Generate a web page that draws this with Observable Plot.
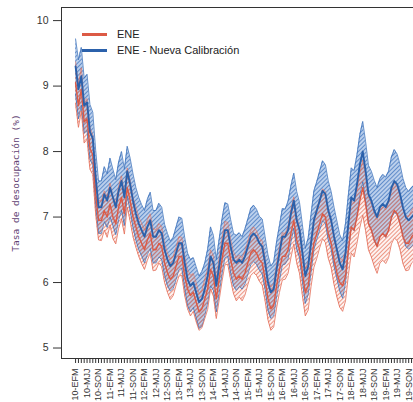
<!DOCTYPE html>
<html>
<head>
<meta charset="utf-8">
<script src="https://cdn.jsdelivr.net/npm/d3@7"></script>
<script src="https://cdn.jsdelivr.net/npm/@observablehq/plot@0.6"></script>
<style>
  html, body { margin: 0; padding: 0; overflow: hidden; background: #fff; width: 413px; height: 402px; }
  #chart { position: relative; width: 413px; height: 402px; overflow: hidden; }
  #chart svg { max-width: none !important; }
  .ley-linea { position: absolute; height: 3px; width: 25px; left: 82px; }
  .ley-texto { position: absolute; left: 117px; font: 11px "Liberation Sans", Arial, sans-serif; color: #222; line-height: 13px; white-space: nowrap; }
</style>
</head>
<body>
<div id="chart"></div>
<script>
// Trimestres móviles (etiquetas del eje X)
const anios = ["10", "11", "12", "13", "14", "15", "16", "17", "18", "19"];
const trimestres = ["EFM", "FMA", "MAM", "AMJ", "MJJ", "JJA", "JAS", "ASO", "SON", "OND", "NDE", "DEF"];
const ticksY = [5, 6, 7, 8, 9, 10];

// Tasa de desocupación (%) — ENE, serie publicada
const ene = [
  9.05, 8.7, 8.95, 8.45, 8.5, 8.05, 7.95, 7.35, 6.95, 6.95, 7.1, 7.0,
  7.2, 7.0, 6.9, 7.15, 7.3, 7.05, 7.45, 7.25, 7.0, 6.85, 6.7, 6.6,
  6.5, 6.65, 6.75, 6.5, 6.5, 6.6, 6.55, 6.3, 6.15, 6.05, 6.1, 6.25,
  6.4, 6.4, 6.1, 5.9, 5.8, 5.85, 5.7, 5.55, 5.6, 5.75, 5.9, 6.2,
  6.1, 5.75, 6.05, 6.35, 6.6, 6.6, 6.35, 6.15, 6.05, 6.1, 6.05, 6.15,
  6.3, 6.45, 6.5, 6.45, 6.35, 6.3, 6.05, 5.75, 5.6, 5.65, 5.95, 6.2,
  6.4, 6.4, 6.5, 6.75, 6.95, 6.65, 6.5, 6.15, 5.85, 5.95, 6.3, 6.6,
  6.75, 6.9, 7.05, 7.0, 6.75, 6.6, 6.35, 6.15, 6.0, 5.95, 6.1, 6.5,
  6.85, 6.8, 7.0, 7.25, 7.45, 7.2, 6.9, 6.8, 6.65, 6.55, 6.7, 6.75,
  6.7, 6.8, 7.0, 7.1, 7.05, 6.9, 6.7, 6.6, 6.6, 6.7, 6.75
];
// Margen del intervalo de confianza — ENE
const eneMargen = [
  0.32, 0.33, 0.33, 0.32, 0.31, 0.32, 0.3, 0.31, 0.3, 0.31, 0.3, 0.31,
  0.32, 0.33, 0.31, 0.32, 0.33, 0.31, 0.3, 0.31, 0.3, 0.31, 0.3, 0.31,
  0.3, 0.31, 0.3, 0.32, 0.31, 0.3, 0.31, 0.3, 0.3, 0.31, 0.3, 0.29,
  0.3, 0.29, 0.3, 0.3, 0.31, 0.29, 0.3, 0.28, 0.29, 0.3, 0.31, 0.3,
  0.31, 0.3, 0.32, 0.33, 0.33, 0.32, 0.31, 0.32, 0.33, 0.32, 0.33, 0.34,
  0.33, 0.34, 0.35, 0.34, 0.33, 0.34, 0.33, 0.32, 0.33, 0.33, 0.34, 0.35,
  0.36, 0.35, 0.36, 0.37, 0.36, 0.35, 0.36, 0.35, 0.36, 0.37, 0.36, 0.37,
  0.38, 0.37, 0.38, 0.39, 0.38, 0.37, 0.38, 0.37, 0.38, 0.39, 0.38, 0.39,
  0.4, 0.41, 0.4, 0.41, 0.42, 0.41, 0.4, 0.41, 0.4, 0.41, 0.4, 0.41,
  0.41, 0.42, 0.41, 0.42, 0.41, 0.4, 0.41, 0.42, 0.41, 0.4, 0.41
];
// Tasa de desocupación (%) — ENE con nueva calibración
const eneNueva = [
  9.3, 8.95, 9.15, 8.7, 8.75, 8.3, 8.2, 7.6, 7.15, 7.15, 7.35, 7.25,
  7.45, 7.3, 7.15, 7.4, 7.55, 7.3, 7.7, 7.5, 7.25, 7.05, 6.9, 6.8,
  6.7, 6.85, 6.95, 6.7, 6.7, 6.8, 6.75, 6.5, 6.35, 6.25, 6.3, 6.45,
  6.6, 6.6, 6.3, 6.05, 5.95, 6.0, 5.85, 5.7, 5.75, 5.9, 6.1, 6.4,
  6.3, 5.95, 6.25, 6.55, 6.8, 6.8, 6.55, 6.35, 6.3, 6.35, 6.3, 6.4,
  6.55, 6.7, 6.75, 6.7, 6.6, 6.55, 6.3, 6.0, 5.85, 5.9, 6.2, 6.45,
  6.7, 6.7, 6.8, 7.05, 7.25, 6.95, 6.8, 6.45, 6.1, 6.25, 6.6, 6.95,
  7.1, 7.25, 7.4, 7.35, 7.1, 6.95, 6.7, 6.5, 6.3, 6.2, 6.45, 6.9,
  7.3, 7.25, 7.5, 7.8, 8.0, 7.7, 7.35, 7.25, 7.1, 7.0, 7.15, 7.2,
  7.15, 7.25, 7.45, 7.55, 7.5, 7.35, 7.15, 7.0, 6.95, 7.0, 7.05
];
// Margen del intervalo de confianza — ENE con nueva calibración
const eneNuevaMargen = [
  0.42, 0.45, 0.44, 0.42, 0.43, 0.42, 0.4, 0.42, 0.4, 0.4, 0.42, 0.41,
  0.45, 0.43, 0.42, 0.44, 0.45, 0.43, 0.38, 0.4, 0.41, 0.4, 0.4, 0.39,
  0.4, 0.42, 0.43, 0.4, 0.4, 0.41, 0.4, 0.39, 0.4, 0.38, 0.39, 0.4,
  0.4, 0.38, 0.39, 0.4, 0.4, 0.38, 0.39, 0.4, 0.42, 0.4, 0.41, 0.45,
  0.42, 0.4, 0.41, 0.42, 0.42, 0.4, 0.41, 0.4, 0.42, 0.41, 0.4, 0.42,
  0.42, 0.43, 0.43, 0.42, 0.41, 0.42, 0.4, 0.42, 0.4, 0.41, 0.42, 0.42,
  0.43, 0.42, 0.44, 0.43, 0.42, 0.44, 0.42, 0.43, 0.42, 0.43, 0.44, 0.45,
  0.44, 0.45, 0.46, 0.45, 0.45, 0.44, 0.45, 0.44, 0.43, 0.44, 0.45, 0.44,
  0.45, 0.46, 0.45, 0.46, 0.46, 0.45, 0.44, 0.45, 0.46, 0.45, 0.44, 0.45,
  0.46, 0.45, 0.47, 0.48, 0.46, 0.45, 0.44, 0.45, 0.44, 0.45, 0.44
];

const periodos = anios.flatMap(a => trimestres.map(t => `${a}-${t}`)).slice(0, ene.length);

const filas = periodos.map((p, i) => ({
  i, periodo: p,
  ene: ene[i], eneLo: ene[i] - eneMargen[i], eneHi: ene[i] + eneMargen[i],
  nueva: eneNueva[i], nuevaLo: eneNueva[i] - eneNuevaMargen[i], nuevaHi: eneNueva[i] + eneNuevaMargen[i]
}));

const AZUL = "#2b61ab", AZUL_BORDE = "#3f74bb";
const ROJO = "#dc5a45", ROJO_BORDE = "#e36b56";

const grafico = Plot.plot({
  width: 430,
  height: 402,
  marginLeft: 61,
  marginRight: 2,
  marginTop: 7,
  marginBottom: 44,
  style: { fontFamily: "'Liberation Sans', Arial, sans-serif", color: "#333", background: "#fff", overflow: "visible", maxWidth: "none" },
  x: { domain: [-4.9, 122.9] },
  y: { domain: [4.84, 10.2] },
  marks: [
    // bandas de confianza con trama
    Plot.areaY(filas, { x: "i", y1: "nuevaLo", y2: "nuevaHi", fill: "url(#trama-azul)" }),
    Plot.areaY(filas, { x: "i", y1: "eneLo", y2: "eneHi", fill: "url(#trama-roja)" }),
    Plot.lineY(filas, { x: "i", y: "nuevaHi", stroke: AZUL_BORDE, strokeWidth: 0.8 }),
    Plot.lineY(filas, { x: "i", y: "nuevaLo", stroke: AZUL_BORDE, strokeWidth: 0.8 }),
    Plot.lineY(filas, { x: "i", y: "eneHi", stroke: ROJO_BORDE, strokeWidth: 0.7, strokeOpacity: 0.8 }),
    Plot.lineY(filas, { x: "i", y: "eneLo", stroke: ROJO_BORDE, strokeWidth: 0.8 }),
    // estimaciones puntuales
    Plot.lineY(filas, { x: "i", y: "ene", stroke: ROJO, strokeWidth: 1.4 }),
    Plot.lineY(filas, { x: "i", y: "nueva", stroke: AZUL, strokeWidth: 1.9 }),
    Plot.frame({ stroke: "#333", strokeWidth: 1 }),
    Plot.axisY(ticksY, { tickSize: 8, tickPadding: 5, fontSize: 10.5, label: null, stroke: "#333", tickFormat: d => String(d) }),
    Plot.axisX(d3.range(0, 123), {
      tickSize: 5, tickPadding: 5, fontSize: 9, tickRotate: -90, label: null,
      tickFormat: i => (i % 4 === 0 && i < periodos.length) ? periodos[i] : ""
    }),
    Plot.text(["Tasa de desocupación (%)"], {
      frameAnchor: "left", textAnchor: "middle", rotate: -90, dx: -46, fontSize: 9.5,
      fontFamily: "'DejaVu Sans Mono', monospace", fill: "#5f3f72"
    })
  ]
});

// tramas diagonales para las bandas
const defs = d3.select(grafico).insert("defs", ":first-child");
const pa = defs.append("pattern").attr("id", "trama-azul").attr("patternUnits", "userSpaceOnUse")
  .attr("width", 3).attr("height", 3).attr("patternTransform", "rotate(45)");
pa.append("rect").attr("width", 3).attr("height", 3).attr("fill", "#a5c1e5");
pa.append("line").attr("x1", 0.5).attr("y1", 0).attr("x2", 0.5).attr("y2", 3).attr("stroke", "#4f80c3").attr("stroke-width", 0.8);
pa.append("line").attr("x1", 2).attr("y1", 0).attr("x2", 2).attr("y2", 3).attr("stroke", "#eef3fb").attr("stroke-width", 0.6);
const pr = defs.append("pattern").attr("id", "trama-roja").attr("patternUnits", "userSpaceOnUse")
  .attr("width", 3).attr("height", 3).attr("patternTransform", "rotate(45)");
pr.append("rect").attr("width", 3).attr("height", 3).attr("fill", "rgba(240,150,130,0.12)");
pr.append("line").attr("x1", 0.5).attr("y1", 0).attr("x2", 0.5).attr("y2", 3).attr("stroke", "#e7755f").attr("stroke-width", 0.75);

const cont = document.getElementById("chart");
cont.appendChild(grafico);

// leyenda
const leyenda = [
  { texto: "ENE", color: ROJO, y: 34 },
  { texto: "ENE - Nueva Calibración", color: AZUL, y: 50.5 }
];
for (const l of leyenda) {
  const linea = document.createElement("div");
  linea.className = "ley-linea";
  linea.style.top = (l.y - 1.5) + "px";
  linea.style.background = l.color;
  cont.appendChild(linea);
  const t = document.createElement("div");
  t.className = "ley-texto";
  t.style.top = (l.y - 6.5) + "px";
  t.textContent = l.texto;
  cont.appendChild(t);
}
</script>
</body>
</html>
